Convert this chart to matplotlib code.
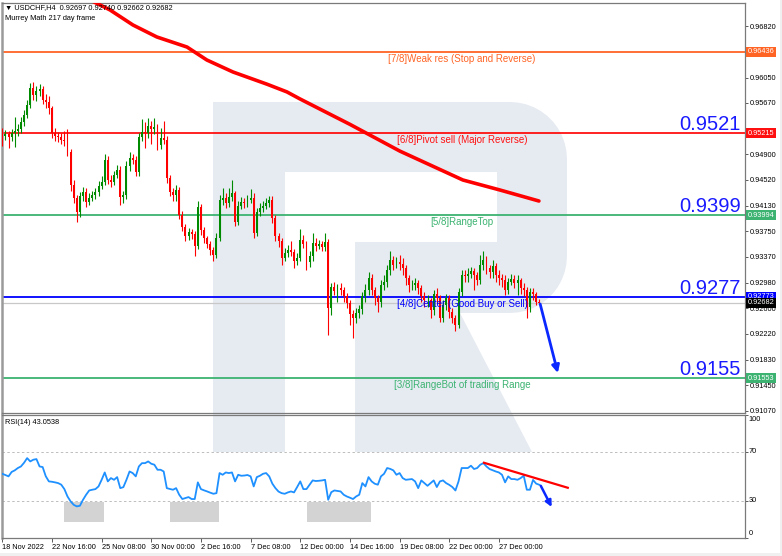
import numpy as np
import matplotlib
matplotlib.use("Agg")
import matplotlib.pyplot as plt
from matplotlib.patches import Polygon, Rectangle
from matplotlib.transforms import blended_transform_factory

plt.rcParams['font.family'] = ['Liberation Sans', 'DejaVu Sans']

### data
### ==================================================

first_open = 0.9522

closes = [
    0.9518, 0.9521, 0.9516, 0.9522, 0.9525, 0.9528, 0.9539, 0.9549, 0.9564, 0.9589,
    0.9579, 0.9585, 0.9588, 0.9571, 0.9568, 0.9559, 0.9522, 0.9518, 0.9516, 0.9512,
    0.9510, 0.9494, 0.9444, 0.9425, 0.9404, 0.9428, 0.9434, 0.9419, 0.9425, 0.9429,
    0.9434, 0.9443, 0.9449, 0.9482, 0.9452, 0.9449, 0.9459, 0.9467, 0.9426, 0.9429,
    0.9473, 0.9485, 0.9482, 0.9464, 0.9516, 0.9524, 0.9522, 0.9533, 0.9528, 0.9531,
    0.9504, 0.9515, 0.9512, 0.9455, 0.9434, 0.9429, 0.9437, 0.9400, 0.9382, 0.9368,
    0.9374, 0.9371, 0.9353, 0.9411, 0.9377, 0.9365, 0.9356, 0.9347, 0.9340, 0.9365,
    0.9422, 0.9425, 0.9417, 0.9426, 0.9432, 0.9389, 0.9413, 0.9419, 0.9417, 0.9422,
    0.9425, 0.9373, 0.9404, 0.9410, 0.9413, 0.9417, 0.9422, 0.9395, 0.9368, 0.9361,
    0.9335, 0.9343, 0.9347, 0.9344, 0.9331, 0.9335, 0.9362, 0.9356, 0.9329, 0.9338,
    0.9358, 0.9353, 0.9356, 0.9352, 0.9359, 0.9260, 0.9292, 0.9286, 0.9290, 0.9287,
    0.9278, 0.9268, 0.9252, 0.9246, 0.9253, 0.9259, 0.9278, 0.9287, 0.9305, 0.9287,
    0.9275, 0.9269, 0.9295, 0.9299, 0.9317, 0.9332, 0.9325, 0.9329, 0.9326, 0.9320,
    0.9305, 0.9295, 0.9295, 0.9298, 0.9290, 0.9278, 0.9272, 0.9272, 0.9257, 0.9281,
    0.9275, 0.9246, 0.9265, 0.9275, 0.9254, 0.9246, 0.9235, 0.9284, 0.9310, 0.9308,
    0.9311, 0.9316, 0.9310, 0.9302, 0.9325, 0.9332, 0.9320, 0.9314, 0.9323, 0.9310,
    0.9305, 0.9302, 0.9287, 0.9299, 0.9304, 0.9298, 0.9302, 0.9290, 0.9287, 0.9262,
    0.9284, 0.9281, 0.92697, 0.92682,
]

highs = [
    0.9530, 0.9527, 0.9525, 0.9528, 0.9546, 0.9535, 0.9546, 0.9556, 0.9572, 0.9597,
    0.9598, 0.9592, 0.9596, 0.9592, 0.9580, 0.9578, 0.9562, 0.9530, 0.9524, 0.9522,
    0.9525, 0.9528, 0.9498, 0.9452, 0.9430, 0.9434, 0.9442, 0.9440, 0.9432, 0.9436,
    0.9440, 0.9450, 0.9458, 0.9490, 0.9488, 0.9460, 0.9466, 0.9474, 0.9472, 0.9436,
    0.9480, 0.9494, 0.9490, 0.9488, 0.9522, 0.9543, 0.9538, 0.9545, 0.9540, 0.9545,
    0.9536, 0.9530, 0.9540, 0.9518, 0.9460, 0.9440, 0.9444, 0.9442, 0.9405, 0.9386,
    0.9380, 0.9378, 0.9376, 0.9420, 0.9416, 0.9382, 0.9368, 0.9360, 0.9352, 0.9372,
    0.9430, 0.9440, 0.9432, 0.9440, 0.9452, 0.9436, 0.9420, 0.9426, 0.9425, 0.9430,
    0.9438, 0.9432, 0.9410, 0.9418, 0.9420, 0.9425, 0.9428, 0.9428, 0.9400, 0.9372,
    0.9365, 0.9350, 0.9354, 0.9360, 0.9348, 0.9342, 0.9378, 0.9370, 0.9360, 0.9345,
    0.9372, 0.9365, 0.9362, 0.9360, 0.9372, 0.9364, 0.9298, 0.9300, 0.9296, 0.9298,
    0.9292, 0.9283, 0.9272, 0.9258, 0.9260, 0.9265, 0.9285, 0.9296, 0.9315, 0.9312,
    0.9292, 0.9280, 0.9302, 0.9310, 0.9325, 0.9345, 0.9338, 0.9336, 0.9340, 0.9335,
    0.9325, 0.9310, 0.9302, 0.9306, 0.9302, 0.9295, 0.9285, 0.9280, 0.9276, 0.9288,
    0.9290, 0.9280, 0.9272, 0.9282, 0.9280, 0.9260, 0.9250, 0.9290, 0.9318, 0.9318,
    0.9320, 0.9322, 0.9320, 0.9314, 0.9340, 0.9345, 0.9338, 0.9325, 0.9332, 0.9328,
    0.9318, 0.9312, 0.9310, 0.9306, 0.9312, 0.9310, 0.9310, 0.9306, 0.9298, 0.9292,
    0.9290, 0.9290, 0.9285, 0.92740,
]

lows = [
    0.9502, 0.9512, 0.9500, 0.9510, 0.9501, 0.9518, 0.9522, 0.9532, 0.9544, 0.9560,
    0.9572, 0.9570, 0.9578, 0.9566, 0.9560, 0.9550, 0.9515, 0.9510, 0.9508, 0.9505,
    0.9502, 0.9488, 0.9436, 0.9418, 0.9389, 0.9396, 0.9420, 0.9412, 0.9414, 0.9420,
    0.9424, 0.9428, 0.9438, 0.9444, 0.9446, 0.9442, 0.9444, 0.9455, 0.9414, 0.9418,
    0.9424, 0.9466, 0.9475, 0.9458, 0.9458, 0.9510, 0.9500, 0.9515, 0.9505, 0.9520,
    0.9496, 0.9498, 0.9505, 0.9448, 0.9428, 0.9420, 0.9420, 0.9394, 0.9375, 0.9360,
    0.9362, 0.9364, 0.9338, 0.9348, 0.9370, 0.9358, 0.9350, 0.9340, 0.9330, 0.9335,
    0.9360, 0.9415, 0.9410, 0.9412, 0.9420, 0.9383, 0.9384, 0.9408, 0.9410, 0.9412,
    0.9418, 0.9365, 0.9368, 0.9398, 0.9404, 0.9408, 0.9412, 0.9388, 0.9360, 0.9352,
    0.9325, 0.9330, 0.9336, 0.9338, 0.9320, 0.9325, 0.9330, 0.9350, 0.9318, 0.9322,
    0.9330, 0.9345, 0.9348, 0.9345, 0.9346, 0.9220, 0.9250, 0.9280, 0.9270, 0.9280,
    0.9270, 0.9260, 0.9235, 0.9215, 0.9238, 0.9246, 0.9252, 0.9270, 0.9280, 0.9280,
    0.9265, 0.9255, 0.9262, 0.9288, 0.9292, 0.9310, 0.9318, 0.9320, 0.9318, 0.9310,
    0.9295, 0.9285, 0.9288, 0.9288, 0.9282, 0.9270, 0.9262, 0.9262, 0.9245, 0.9250,
    0.9268, 0.9240, 0.9240, 0.9258, 0.9245, 0.9238, 0.9226, 0.9230, 0.9278, 0.9300,
    0.9300, 0.9305, 0.9287, 0.9295, 0.9296, 0.9318, 0.9312, 0.9306, 0.9306, 0.9300,
    0.9295, 0.9292, 0.9280, 0.9282, 0.9295, 0.9290, 0.9280, 0.9282, 0.9278, 0.9245,
    0.9255, 0.9272, 0.9265, 0.92662,
]

rsi = [
    52.0, 51.0, 49.9, 53.5, 54.8, 56.7, 58.0, 61.0, 64.8, 62.1,
    63.5, 64.0, 58.0, 57.5, 50.0, 45.8, 45.5, 45.0, 44.4, 43.1,
    39.5, 33.5, 29.5, 26.7, 25.4, 25.9, 30.8, 34.9, 38.4, 39.0,
    39.5, 41.7, 47.1, 53.1, 45.8, 48.5, 47.1, 49.3, 40.3, 41.1,
    47.1, 53.9, 52.6, 49.9, 58.0, 60.7, 60.7, 62.1, 60.2, 59.4,
    55.3, 55.3, 53.9, 40.3, 39.6, 39.0, 40.3, 34.9, 31.4, 32.2,
    33.0, 31.4, 31.4, 45.0, 39.5, 38.5, 37.6, 36.6, 35.7, 36.2,
    52.6, 51.2, 53.1, 52.6, 53.1, 45.8, 51.2, 50.4, 50.6, 51.0,
    49.9, 41.7, 49.3, 50.4, 52.0, 52.6, 49.9, 44.0, 40.3, 37.5,
    36.2, 35.7, 36.8, 37.6, 36.8, 41.2, 45.8, 39.5, 39.5, 43.0,
    46.6, 46.1, 46.3, 46.6, 47.1, 30.8, 37.0, 38.4, 38.0, 37.6,
    34.9, 33.5, 32.5, 31.4, 33.5, 34.9, 44.4, 41.7, 49.3, 45.8,
    43.9, 43.1, 49.9, 52.0, 56.7, 56.0, 54.8, 51.2, 52.6, 48.5,
    47.1, 47.4, 47.7, 45.8, 40.3, 46.6, 44.4, 42.2, 44.4, 46.6,
    41.2, 45.8, 46.6, 44.4, 43.0, 41.2, 38.4, 45.8, 56.7, 56.7,
    56.7, 58.6, 55.9, 56.7, 59.4, 60.7, 58.0, 55.9, 54.9, 53.9,
    53.1, 51.2, 45.0, 49.9, 47.7, 47.7, 47.1, 48.5, 50.4, 39.0,
    39.0, 47.0, 44.0, 43.05,
]

# Murrey Math 217 day moving line (bar index, price)
ma_bars = [25.0, 28.3, 34.7, 42.1, 49.8, 59.5, 65.9, 74.3, 85.3, 91.7,
           95.9, 112.0, 128.1, 148.4, 160.3, 172.9]
ma_vals = [0.97284, 0.97209, 0.97060, 0.96835, 0.96656, 0.96506, 0.96312, 0.96133,
           0.95950, 0.95835, 0.95730, 0.95350, 0.94950, 0.94518, 0.94369, 0.94204]

tick_bars = [0, 16, 32, 48, 64, 80, 96, 112, 128, 144, 160]
tick_labels = ['18 Nov 2022', '22 Nov 16:00', '25 Nov 08:00', '30 Nov 00:00',
               '2 Dec 16:00', '7 Dec 08:00', '12 Dec 00:00', '14 Dec 16:00',
               '19 Dec 08:00', '22 Dec 00:00', '27 Dec 00:00']

price_ticks = [0.96820, 0.96440, 0.96050, 0.95670, 0.95290, 0.94900, 0.94520, 0.94130,
               0.93750, 0.93370, 0.92980, 0.92600, 0.92220, 0.91830, 0.91450, 0.91070]
# scale labels hidden behind the coloured level tags
hidden_ticks = [0.96440, 0.95290]

levels = [0.96436, 0.95215, 0.93994, 0.92773, 0.91553]
level_names = ['[7/8]Weak res (Stop and Reverse)', '[6/8]Pivot sell (Major Reverse)',
               '[5/8]RangeTop', '[4/8]Center (Good Buy or Sell)',
               '[3/8]RangeBot of trading Range']
level_colors = ['#ff6425', '#ff1010', '#3cb371', '#0000ff', '#3cb371']

big_levels = [0.95215, 0.93994, 0.92773, 0.91553]
big_texts = ['0.9521', '0.9399', '0.9277', '0.9155']

last_price = 0.92682

# arrow drawn on the price panel and the RSI panel
arrow_price = [(173.3, 0.92664), (179.0, 0.91633)]
arrow_rsi = [(173.5, 42.2), (177.0, 24.9)]
rsi_trend_bars = [155.2, 182.2]
rsi_trend_vals = [61.0, 40.6]
# grey boxes under the RSI dips (bar from, bar to)
rsi_boxes = [(19.9, 32.8), (54.0, 69.8), (98.2, 118.8)]


### figure
### ==================================================

W, H = 782, 556

def fx(x):
    return x / W

def fy(y):
    return 1 - y / H

fig = plt.figure(figsize=(W / 100, H / 100), dpi=100, facecolor='white')

# faint "R" watermark behind both panels (pixel outline)
wm = '#e6ebf2'
t1 = np.linspace(np.pi / 2, 0, 12)
t2 = np.linspace(0, -np.pi / 2, 12)
bowl = ([(285, 102), (510, 102)]
        + [(510 + 57 * np.cos(t), 159 - 57 * np.sin(t)) for t in t1]
        + [(567, 256)]
        + [(510 + 57 * np.cos(t), 256 - 57 * np.sin(t)) for t in t2]
        + [(355, 313), (355, 242), (497, 242), (497, 172), (285, 172)])
shapes = [
    [(213, 102), (285, 102), (285, 452), (213, 452)],
    bowl,
    [(355, 313), (460, 313), (532, 452), (355, 452)],
]
for pts in shapes:
    fig.add_artist(Polygon([(fx(x), fy(y)) for x, y in pts], closed=True,
                           transform=fig.transFigure, fc=wm, ec='none', zorder=-5))

# outer frame of the terminal window
fig.add_artist(Rectangle((fx(779.5), 0), 1 - fx(779.5), 1, transform=fig.transFigure,
                         fc='#f0f0f0', ec='none', zorder=-4))
fig.add_artist(Rectangle((0, 0), 1, fy(553), transform=fig.transFigure,
                         fc='#f0f0f0', ec='none', zorder=-4))

ax = fig.add_axes([fx(2), fy(413), 743 / W, 410 / H])
rx = fig.add_axes([fx(2), fy(537.5), 743 / W, 122.5 / H])
for a in (ax, rx):
    a.set_facecolor('none')
    a.set_xlim(-0.1, 239.3)
    for s in a.spines.values():
        s.set_color('#7a7a7a')
        s.set_linewidth(0.9)
    a.spines['left'].set_linewidth(1.8)
    a.spines['left'].set_color('#9a9a9a')

# candles
n = len(closes)
bars = np.arange(n)
c = np.array(closes)
o = np.array([first_open] + closes[:-1])
up = c >= o
col = np.where(up, '#008a00', '#ff0000')
ax.vlines(bars, lows, highs, colors=col, lw=0.8, zorder=3)
ax.bar(bars, np.maximum(np.abs(c - o), 0.00005), bottom=np.minimum(o, c),
       width=0.62, color=col, lw=0, zorder=3)

ax.plot(ma_bars, ma_vals, color='#ff0000', lw=2.6, zorder=4,
        solid_capstyle='round', solid_joinstyle='round')

ax.axhline(last_price, color='#c8c8c8', lw=0.9, zorder=1)
for v, name, cl in zip(levels, level_names, level_colors):
    ax.axhline(v, color=cl, lw=1.3, zorder=2)
    ax.annotate(name, (148.1, v), xytext=(0, -1.5), textcoords='offset points',
                ha='center', va='top', fontsize=7, color=cl, zorder=5)

for v, t in zip(big_levels, big_texts):
    ax.annotate(t, (238.0, v), xytext=(0, 2.2), textcoords='offset points',
                ha='right', va='baseline', fontsize=14.5, color='#1a1aff', zorder=6)

ax.annotate('', xy=arrow_price[1], xytext=arrow_price[0], zorder=6,
            arrowprops=dict(arrowstyle='-|>', color='#0a28ff', lw=2.0,
                            mutation_scale=11, shrinkA=0, shrinkB=0))

ax.set_ylim(0.91035, 0.97164)
ax.set_xticks([])
ax.yaxis.tick_right()
ax.set_yticks(price_ticks)
ax.set_yticklabels(['' if v in hidden_ticks else f'{v:.5f}' for v in price_ticks],
                   fontsize=5.3)
ax.tick_params(axis='y', length=2, width=0.6, pad=1.5, color='#404040')

# price tags on the right scale
tag_t = blended_transform_factory(ax.transAxes, ax.transData)
tag_vals = levels + [last_price]
tag_cols = level_colors + ['#000000']
for v, cl in zip(tag_vals, tag_cols):
    ax.text(1.0035, v, f'{v:.5f}', transform=tag_t, ha='left', va='center',
            fontsize=5.3, color='white', clip_on=False, zorder=10,
            bbox=dict(boxstyle='square,pad=0.2', fc=cl, ec='none'))

# RSI panel
for lv in (30, 70):
    rx.axhline(lv, color='#bdbdbd', lw=0.7, ls=(0, (2.5, 2.5)), zorder=1)
for b0, b1 in rsi_boxes:
    rx.add_patch(Rectangle((b0, 12.9), b1 - b0, 16.3, fc='#d3d3d3', ec='none', zorder=2))
rx.plot(bars, rsi, color='#1e90ff', lw=1.3, zorder=3)
rx.plot(rsi_trend_bars, rsi_trend_vals, color='#ff0000', lw=1.6, zorder=4)
rx.annotate('', xy=arrow_rsi[1], xytext=arrow_rsi[0], zorder=5,
            arrowprops=dict(arrowstyle='-|>', color='#0a28ff', lw=1.8,
                            mutation_scale=9, shrinkA=0, shrinkB=0))
rx.set_ylim(0, 100)
rx.yaxis.tick_right()
rx.set_yticks([0, 30, 70, 100])
rx.set_yticklabels([])
rx.tick_params(axis='y', length=2, width=0.6, color='#404040')
rsi_t = blended_transform_factory(rx.transAxes, rx.transData)
for v, lab in zip([96.0, 70, 30, 3.5], ['100', '70', '30', '0']):
    rx.text(1.0045, v, lab, transform=rsi_t, ha='left', va='center',
            fontsize=5.3, clip_on=False)

rx.set_xticks(tick_bars)
rx.set_xticklabels(tick_labels, ha='left', fontsize=5.3)
rx.tick_params(axis='x', length=3, width=0.6, pad=2, color='#404040')

# header texts
fig.text(fx(5), fy(8), '\u25bc USDCHF,H4  0.92697 0.92740 0.92662 0.92682',
         fontsize=5.3, va='center')
fig.text(fx(5), fy(19), 'Murrey Math 217 day frame', fontsize=5.3, va='center')
fig.text(fx(5), fy(422), 'RSI(14) 43.0538', fontsize=5.3, va='center')

fig.savefig('out.png', dpi=100, facecolor='white')
